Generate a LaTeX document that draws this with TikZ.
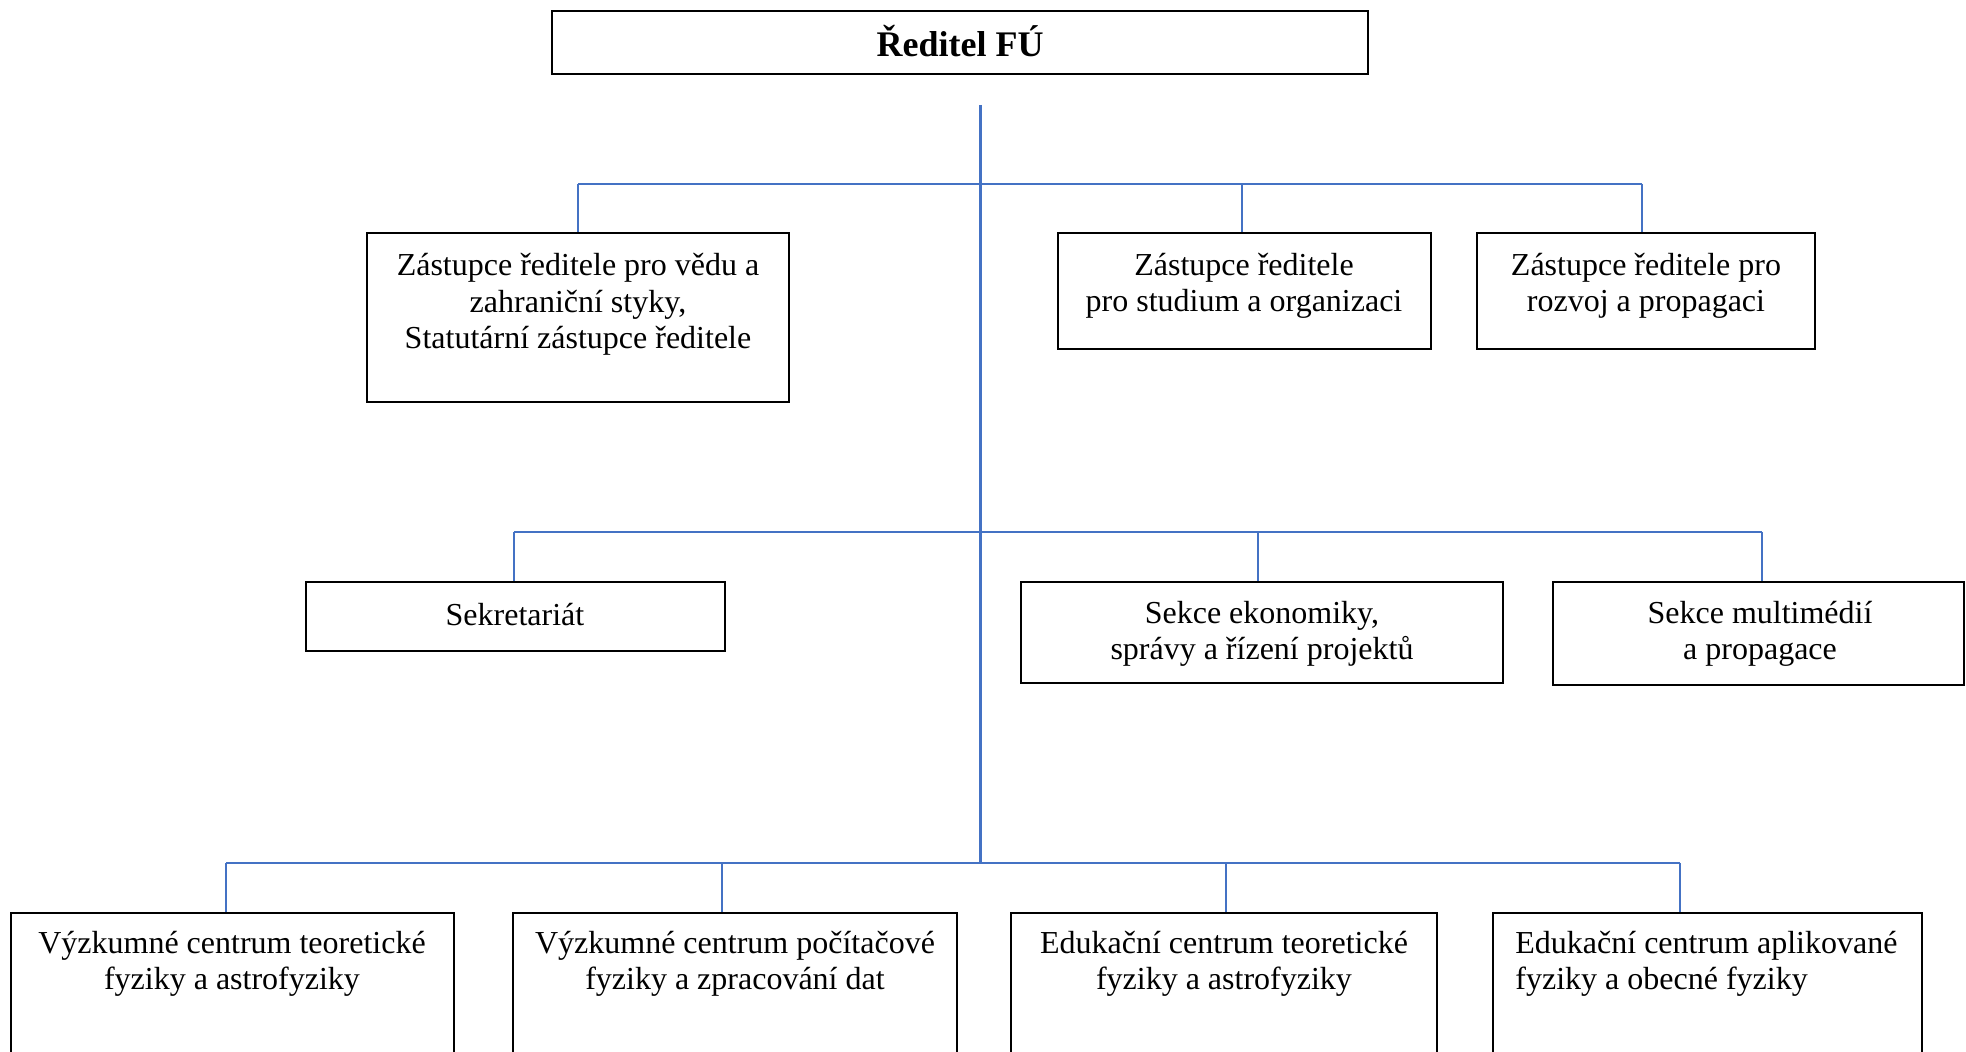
\documentclass[tikz,border=0pt]{standalone}
\usepackage{fontspec}
\setmainfont{Liberation Serif}
\usetikzlibrary{positioning}
\definecolor{orgblue}{HTML}{4472C4}

\begin{document}
\begin{tikzpicture}
		[x=0.5pt, y=-0.5pt,
		 unit/.style={draw, line width=1pt, rectangle, inner sep=0pt},
		 txt/.style={align=center, inner sep=0pt, font=\fontsize{16}{18.3}\selectfont},
		 trunk/.style={orgblue, line width=1.5pt},
		 bus/.style={orgblue, line width=1.2pt},
		 drop/.style={orgblue, line width=0.8pt}]

		\useasboundingbox (0,0) rectangle (1966,1052);
		\clip (0,0) rectangle (1966,1052);

		% boxes %
		\node[unit, line width=1.2pt, minimum width=408pt, minimum height=31.5pt] (dir) at (960,42.5) {};
		\node[unit, minimum width=211pt, minimum height=84.5pt] (a1) at (578,317.5) {};
		\node[unit, minimum width=186.5pt, minimum height=58pt] (a2) at (1244.5,291) {};
		\node[unit, minimum width=169pt, minimum height=58pt] (a3) at (1646,291) {};
		\node[unit, minimum width=209.5pt, minimum height=34.5pt] (b1) at (515.5,616.5) {};
		\node[unit, minimum width=241pt, minimum height=50.5pt] (b2) at (1262,632.5) {};
		\node[unit, minimum width=205.5pt, minimum height=51.5pt] (b3) at (1758.5,633.5) {};
		\node[unit, minimum width=221.5pt, minimum height=93.5pt] (c1) at (232.5,1006.5) {};
		\node[unit, minimum width=222pt, minimum height=93.5pt] (c2) at (735,1006.5) {};
		\node[unit, minimum width=213pt, minimum height=93.5pt] (c3) at (1224,1006.5) {};
		\node[unit, minimum width=214.5pt, minimum height=93.5pt] (c4) at (1707.5,1006.5) {};

		% texts %
		\node[txt, font=\fontsize{18}{21}\selectfont\bfseries] (dirt) at (960,41.5) {Ředitel FÚ};
		\node[txt] (a1t) at (578,304.5) {Zástupce ředitele pro vědu a\\zahraniční styky,\\Statutární zástupce ředitele};
		\node[txt] (a2t) at (1244,286) {Zástupce ředitele\\pro studium a organizaci};
		\node[txt] (a3t) at (1646,286) {Zástupce ředitele pro\\rozvoj a propagaci};
		\node[txt] (b1t) at (515,615) {Sekretariát};
		\node[txt] (b2t) at (1262,634) {Sekce ekonomiky,\\správy a řízení projektů};
		\node[txt] (b3t) at (1760,634) {Sekce multimédií\\a propagace};
		\node[txt] (c1t) at (232,964) {Výzkumné centrum teoretické\\fyziky a astrofyziky};
		\node[txt] (c2t) at (735,964) {Výzkumné centrum počítačové\\fyziky a zpracování dat};
		\node[txt] (c3t) at (1224,964) {Edukační centrum teoretické\\fyziky a astrofyziky};
		\node[txt, align=left, anchor=west] (c4t) at (1515,964) {Edukační centrum aplikované\\fyziky a obecné fyziky};

		% edges %
		\coordinate (top) at (980,105);
		\coordinate (bottom) at (980,863);
		\draw[trunk] (top) -- (bottom);

		\coordinate (l1w) at (578,184);
		\coordinate (l1e) at (1642,184);
		\coordinate (l2w) at (514,532);
		\coordinate (l2e) at (1762,532);
		\coordinate (l3w) at (226,863);
		\coordinate (l3e) at (1680,863);
		\draw[bus] (l1w) -- (l1e);
		\draw[bus] (l2w) -- (l2e);
		\draw[bus] (l3w) -- (l3e);

		\foreach \x/\y/\n in {578/184/a1, 1242/184/a2, 1642/184/a3,
			514/532/b1, 1258/532/b2, 1762/532/b3,
			226/863/c1, 722/863/c2, 1226/863/c3, 1680/863/c4}
		{
			\coordinate (\n-tap) at (\x,\y);
			\draw[drop] (\n-tap) -- (\n-tap |- \n.north);
		}

		\end{tikzpicture}
\end{document}
